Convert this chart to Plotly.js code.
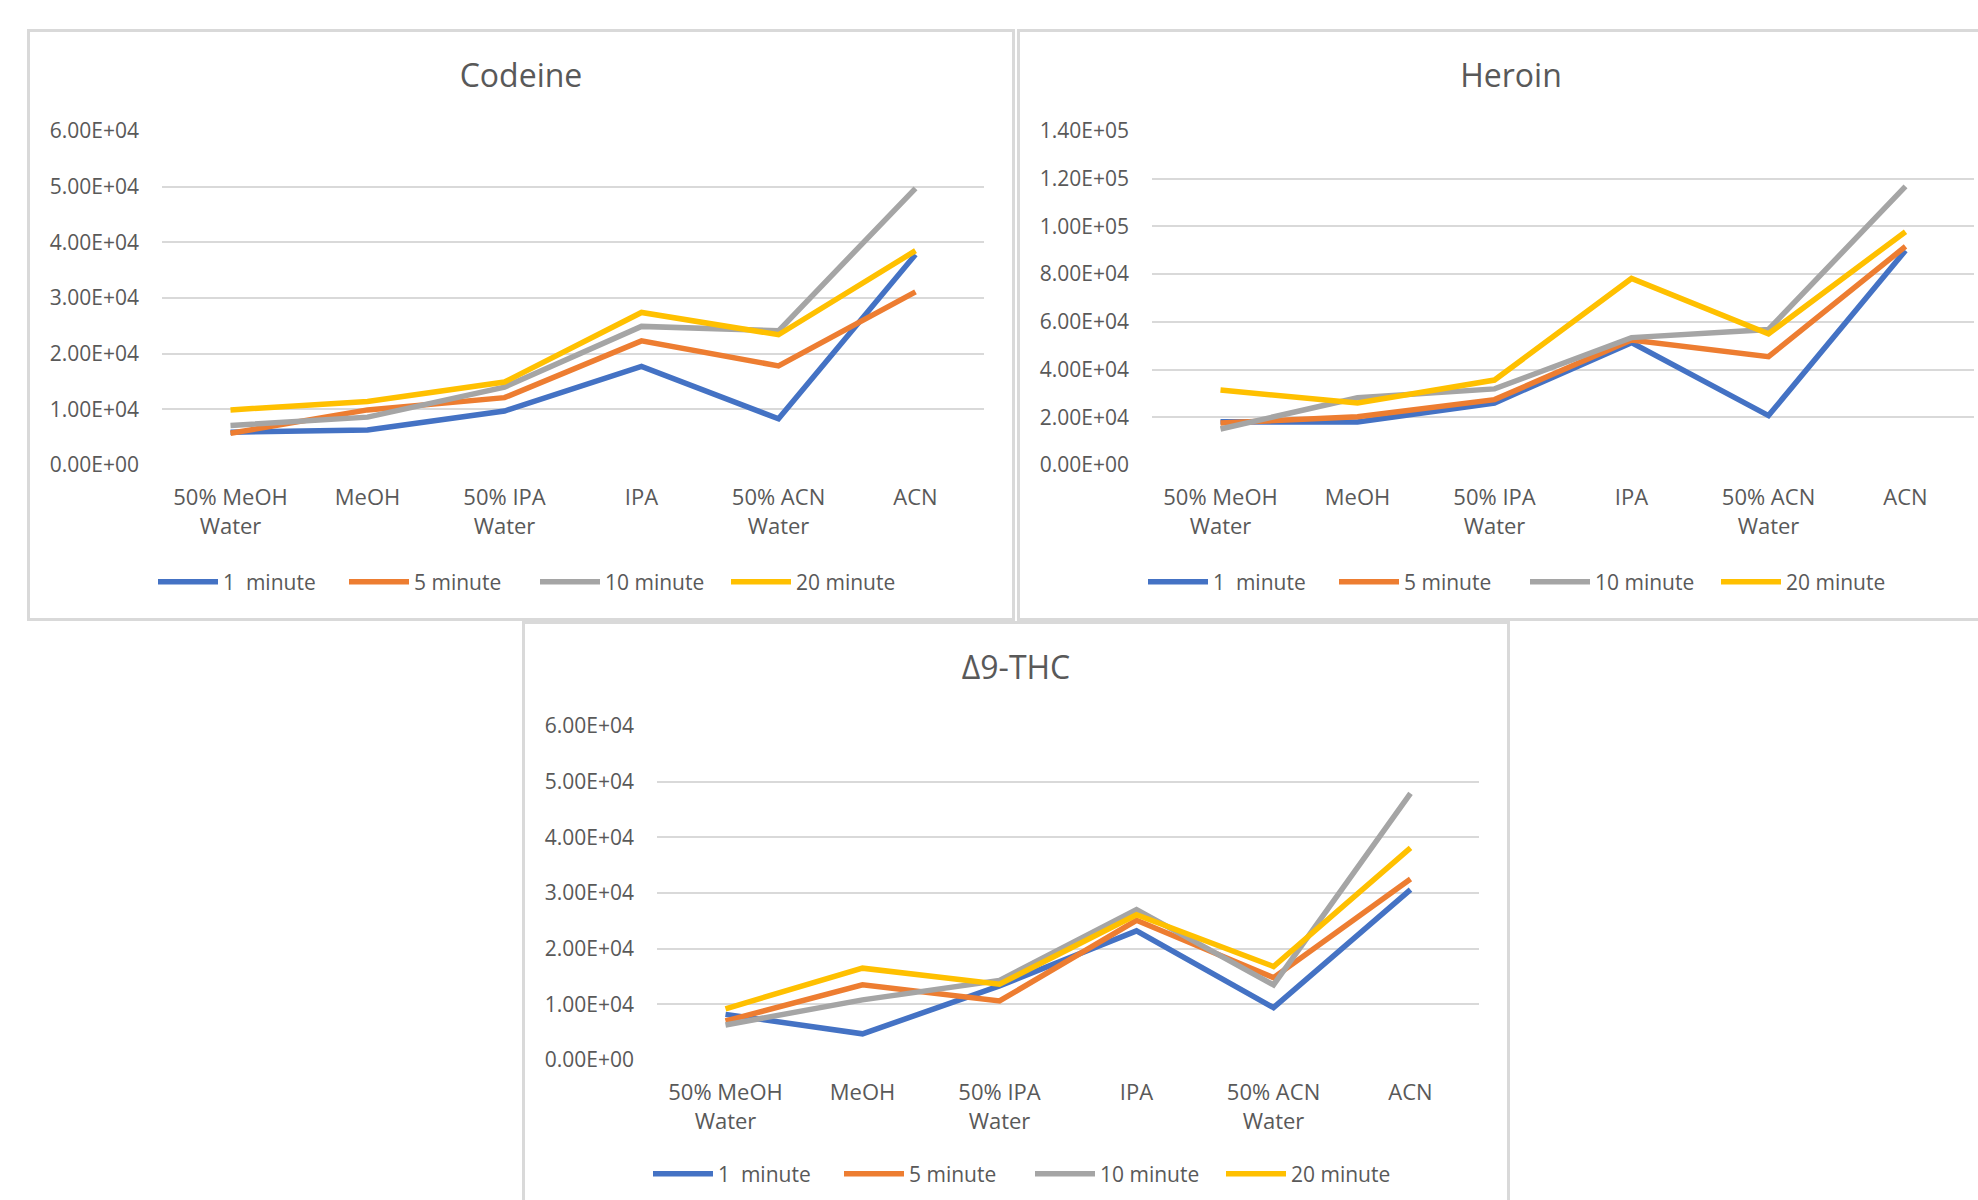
<!DOCTYPE html>
<html>
<head>
<meta charset="utf-8">
<script src="https://cdn.plot.ly/plotly-3.0.1.min.js"></script>
<style>
  html, body { margin: 0; padding: 0; width: 1978px; height: 1200px; overflow: hidden; background: #ffffff; }
  .panel { position: absolute; width: 988px; height: 592px; }
  .plot { position: absolute; left: 0; top: 0; width: 988px; height: 592px; }
  .frame { position: absolute; left: 0; top: 0; right: 0; bottom: 0; border: 3px solid #d9d9d9; box-sizing: border-box; pointer-events: none; }
</style>
</head>
<body>
<div class="panel" id="p1" style="left:27px; top:29px;"><div class="plot" id="codeine"></div><div class="frame"></div></div>
<div class="panel" id="p2" style="left:1017px; top:29px;"><div class="plot" id="heroin"></div><div class="frame"></div></div>
<div class="panel" id="p3" style="left:522px; top:621px;"><div class="plot" id="thc"></div><div class="frame"></div></div>
<script>
// ---- data ----
const categories = ['50% MeOH<br>Water', 'MeOH', '50% IPA<br>Water', 'IPA', '50% ACN<br>Water', 'ACN'];
const seriesNames = ['1\u00a0 minute', '5 minute', '10 minute', '20 minute'];
const seriesColors = ['#4472C4', '#ED7D31', '#A5A5A5', '#FFC000'];

const codeine1  = [5900, 6300, 9700, 17700, 8300, 37800];
const codeine5  = [5700, 9900, 12100, 22300, 17800, 31100];
const codeine10 = [7100, 8600, 14000, 24900, 24100, 49700];
const codeine20 = [9900, 11400, 14900, 27400, 23400, 38500];

const heroin1  = [18100, 18000, 26000, 51300, 20700, 89900];
const heroin5  = [17600, 20200, 27400, 52400, 45400, 91600];
const heroin10 = [15100, 28200, 31900, 53400, 56800, 116800];
const heroin20 = [31400, 26000, 35600, 78200, 55000, 97800];

const thc1  = [8200, 4700, 13300, 23200, 9400, 30600];
const thc5  = [7000, 13500, 10600, 25100, 14800, 32500];
const thc10 = [6300, 10800, 14300, 27000, 13500, 47900];
const thc20 = [9200, 16500, 13600, 26100, 16800, 38100];

const tickVals60k  = [0, 10000, 20000, 30000, 40000, 50000, 60000];
const tickText60k  = ['0.00E+00', '1.00E+04', '2.00E+04', '3.00E+04', '4.00E+04', '5.00E+04', '6.00E+04'];
const tickVals140k = [0, 20000, 40000, 60000, 80000, 100000, 120000, 140000];
const tickText140k = ['0.00E+00', '2.00E+04', '4.00E+04', '6.00E+04', '8.00E+04', '1.00E+05', '1.20E+05', '1.40E+05'];

// ---- drawing ----
const FONT = '"Open Sans", "Noto Sans", sans-serif';
const TEXT = '#595959';

function makeChart(id, title, series, tickVals, tickText, yMax, margin) {
  const traces = series.map((ys, i) => ({
    type: 'scatter',
    mode: 'lines',
    x: categories,
    y: ys,
    name: seriesNames[i],
    line: { color: seriesColors[i], width: 5.5 },
    hoverinfo: 'skip'
  }));
  const W = 988, H = 592;
  const layout = {
    width: W, height: H,
    paper_bgcolor: '#ffffff', plot_bgcolor: '#ffffff',
    margin: margin,
    font: { family: FONT, color: TEXT, size: 20 },
    title: {
      text: title,
      font: { family: FONT, size: 32, color: TEXT },
      x: 0.5, xref: 'container', xanchor: 'center',
      y: 1 - 47 / H, yref: 'container', yanchor: 'middle'
    },
    showlegend: true,
    legend: {
      orientation: 'h',
      xref: 'container', yref: 'container',
      x: 126 / W, xanchor: 'left',
      y: 39 / H, yanchor: 'middle',
      font: { family: FONT, size: 21, color: TEXT },
      entrywidth: 116,
      itemwidth: 60,
      traceorder: 'normal'
    },
    xaxis: {
      type: 'category',
      range: [-0.5, 5.5],
      showgrid: false, zeroline: false, showline: false,
      ticks: '',
      ticklabelstandoff: 17,
      tickfont: { family: FONT, size: 22, color: TEXT },
      fixedrange: true
    },
    yaxis: {
      range: [0, yMax],
      tickvals: tickVals, ticktext: tickText,
      showgrid: true, gridcolor: '#d9d9d9', gridwidth: 2,
      zeroline: false, showline: false,
      ticks: '',
      ticklabelstandoff: 22,
      tickfont: { family: FONT, size: 21, color: TEXT },
      fixedrange: true
    }
  };
  Plotly.newPlot(id, traces, layout, { staticPlot: true, displayModeBar: false });
}

makeChart('codeine', 'Codeine', [codeine1, codeine5, codeine10, codeine20],
  tickVals60k, tickText60k, 60000, { l: 135, r: 31, t: 102, b: 156 });
makeChart('heroin', 'Heroin', [heroin1, heroin5, heroin10, heroin20],
  tickVals140k, tickText140k, 140000, { l: 135, r: 31, t: 102, b: 156 });
makeChart('thc', '\u03949-THC', [thc1, thc5, thc10, thc20],
  tickVals60k, tickText60k, 60000, { l: 135, r: 31, t: 105, b: 153 });
</script>
</body>
</html>
